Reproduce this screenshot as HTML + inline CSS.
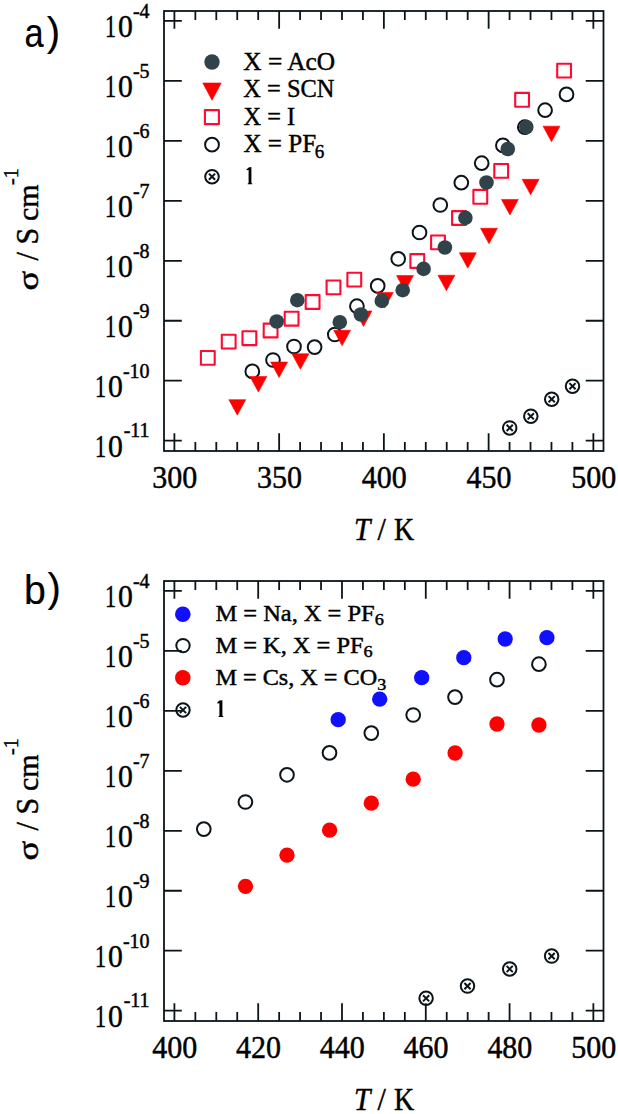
<!DOCTYPE html>
<html><head><meta charset="utf-8"><style>
html,body{margin:0;padding:0;background:#fff;}
svg{display:block;}
text{font-family:"Liberation Serif",serif;fill:#000;stroke:#000;stroke-width:0.45px;}
.tl{font-size:30px;}
.sup{font-size:20px;}
.sup2{font-size:20px;}
.al{font-size:30px;}
.it{font-style:italic;}
.lg{font-size:25.6px;}
.lgb{font-size:23.4px;}
.sub{font-size:17.5px;}
.suba{font-size:19.5px;}
.pl{font-family:"Liberation Sans",sans-serif;font-size:40px;stroke-width:0.2px;}
</style></head><body>
<svg width="618" height="1114" viewBox="0 0 618 1114">
<rect width="618" height="1114" fill="#fff"/>
<rect x="164.0" y="11.0" width="439.5" height="440.0" fill="none" stroke="#0b1519" stroke-width="1.8"/>
<path d="M174.40 451.00V433.20M174.40 11.00V28.80M195.35 451.00V442.00M195.35 11.00V20.00M216.30 451.00V442.00M216.30 11.00V20.00M237.24 451.00V442.00M237.24 11.00V20.00M258.19 451.00V442.00M258.19 11.00V20.00M279.14 451.00V433.20M279.14 11.00V28.80M300.09 451.00V442.00M300.09 11.00V20.00M321.04 451.00V442.00M321.04 11.00V20.00M341.98 451.00V442.00M341.98 11.00V20.00M362.93 451.00V442.00M362.93 11.00V20.00M383.88 451.00V433.20M383.88 11.00V28.80M404.83 451.00V442.00M404.83 11.00V20.00M425.78 451.00V442.00M425.78 11.00V20.00M446.72 451.00V442.00M446.72 11.00V20.00M467.67 451.00V442.00M467.67 11.00V20.00M488.62 451.00V433.20M488.62 11.00V28.80M509.57 451.00V442.00M509.57 11.00V20.00M530.52 451.00V442.00M530.52 11.00V20.00M551.46 451.00V442.00M551.46 11.00V20.00M572.41 451.00V442.00M572.41 11.00V20.00M593.36 451.00V433.20M593.36 11.00V28.80M164.00 20.90H181.80M603.50 20.90H585.70M164.00 80.87H181.80M603.50 80.87H585.70M164.00 140.84H181.80M603.50 140.84H585.70M164.00 200.81H181.80M603.50 200.81H585.70M164.00 260.78H181.80M603.50 260.78H585.70M164.00 320.75H181.80M603.50 320.75H585.70M164.00 380.72H181.80M603.50 380.72H585.70M164.00 440.69H181.80M603.50 440.69H585.70" stroke="#0b1519" stroke-width="1.8" fill="none"/>
<text x="149.6" y="17.70" text-anchor="end" class="sup">-4</text>
<text transform="translate(132.94 37.40) scale(0.99 1.07)" text-anchor="end" class="tl">0</text>
<text transform="translate(116.14 37.40) scale(0.74 1.07)" text-anchor="end" class="tl">1</text>
<text x="149.6" y="77.67" text-anchor="end" class="sup">-5</text>
<text transform="translate(132.94 97.37) scale(0.99 1.07)" text-anchor="end" class="tl">0</text>
<text transform="translate(116.14 97.37) scale(0.74 1.07)" text-anchor="end" class="tl">1</text>
<text x="149.6" y="137.64" text-anchor="end" class="sup">-6</text>
<text transform="translate(132.94 157.34) scale(0.99 1.07)" text-anchor="end" class="tl">0</text>
<text transform="translate(116.14 157.34) scale(0.74 1.07)" text-anchor="end" class="tl">1</text>
<text x="149.6" y="197.61" text-anchor="end" class="sup">-7</text>
<text transform="translate(132.94 217.31) scale(0.99 1.07)" text-anchor="end" class="tl">0</text>
<text transform="translate(116.14 217.31) scale(0.74 1.07)" text-anchor="end" class="tl">1</text>
<text x="149.6" y="257.58" text-anchor="end" class="sup">-8</text>
<text transform="translate(132.94 277.28) scale(0.99 1.07)" text-anchor="end" class="tl">0</text>
<text transform="translate(116.14 277.28) scale(0.74 1.07)" text-anchor="end" class="tl">1</text>
<text x="149.6" y="317.55" text-anchor="end" class="sup">-9</text>
<text transform="translate(132.94 337.25) scale(0.99 1.07)" text-anchor="end" class="tl">0</text>
<text transform="translate(116.14 337.25) scale(0.74 1.07)" text-anchor="end" class="tl">1</text>
<text x="149.6" y="377.52" text-anchor="end" class="sup">-10</text>
<text transform="translate(122.94 397.22) scale(0.99 1.07)" text-anchor="end" class="tl">0</text>
<text transform="translate(106.14 397.22) scale(0.74 1.07)" text-anchor="end" class="tl">1</text>
<text x="149.6" y="437.49" text-anchor="end" class="sup">-11</text>
<text transform="translate(122.94 457.19) scale(0.99 1.07)" text-anchor="end" class="tl">0</text>
<text transform="translate(106.14 457.19) scale(0.74 1.07)" text-anchor="end" class="tl">1</text>
<text transform="translate(37.8 290.6) rotate(-90) scale(1.22 1.0)" class="al">σ</text>
<text transform="translate(37.8 260.5) rotate(-90) scale(1 1.08)" class="al">/</text>
<text transform="translate(37.8 244.5) rotate(-90) scale(1 1.08)" class="al">S</text>
<text transform="translate(37.8 221.0) rotate(-90) scale(1 1.0)" class="al">cm</text>
<text transform="translate(17.8 185.0) rotate(-90) scale(1 1.0)" class="sup">-1</text>
<text transform="translate(174.70 488.2) scale(1 1.05)" text-anchor="middle" class="tl">300</text>
<text transform="translate(279.44 488.2) scale(1 1.05)" text-anchor="middle" class="tl">350</text>
<text transform="translate(384.18 488.2) scale(1 1.05)" text-anchor="middle" class="tl">400</text>
<text transform="translate(488.92 488.2) scale(1 1.05)" text-anchor="middle" class="tl">450</text>
<text transform="translate(593.66 488.2) scale(1 1.05)" text-anchor="middle" class="tl">500</text>
<text transform="translate(354.0 540.0) scale(0.98 1.02)" class="al it">T</text>
<text transform="translate(377.4 540.0) scale(1.0 1.02)" class="al">/</text>
<text transform="translate(394.0 540.0) scale(0.93 1.02)" class="al">K</text>
<text transform="translate(24.5 47) scale(0.86 1.02)" class="pl">a</text><text x="46.8" y="46" class="pl">)</text>
<rect x="200.90" y="351.00" width="13.8" height="13.8" fill="none" stroke="#ff0a30" stroke-width="2.1" stroke-linejoin="round"/>
<rect x="221.80" y="334.70" width="13.8" height="13.8" fill="none" stroke="#ff0a30" stroke-width="2.1" stroke-linejoin="round"/>
<rect x="242.50" y="331.30" width="13.8" height="13.8" fill="none" stroke="#ff0a30" stroke-width="2.1" stroke-linejoin="round"/>
<rect x="263.70" y="323.60" width="13.8" height="13.8" fill="none" stroke="#ff0a30" stroke-width="2.1" stroke-linejoin="round"/>
<rect x="284.70" y="311.80" width="13.8" height="13.8" fill="none" stroke="#ff0a30" stroke-width="2.1" stroke-linejoin="round"/>
<rect x="305.70" y="295.10" width="13.8" height="13.8" fill="none" stroke="#ff0a30" stroke-width="2.1" stroke-linejoin="round"/>
<rect x="326.60" y="280.50" width="13.8" height="13.8" fill="none" stroke="#ff0a30" stroke-width="2.1" stroke-linejoin="round"/>
<rect x="347.40" y="272.70" width="13.8" height="13.8" fill="none" stroke="#ff0a30" stroke-width="2.1" stroke-linejoin="round"/>
<rect x="410.40" y="254.10" width="13.8" height="13.8" fill="none" stroke="#ff0a30" stroke-width="2.1" stroke-linejoin="round"/>
<rect x="431.10" y="235.50" width="13.8" height="13.8" fill="none" stroke="#ff0a30" stroke-width="2.1" stroke-linejoin="round"/>
<rect x="452.10" y="211.10" width="13.8" height="13.8" fill="none" stroke="#ff0a30" stroke-width="2.1" stroke-linejoin="round"/>
<rect x="473.40" y="189.90" width="13.8" height="13.8" fill="none" stroke="#ff0a30" stroke-width="2.1" stroke-linejoin="round"/>
<rect x="494.30" y="164.00" width="13.8" height="13.8" fill="none" stroke="#ff0a30" stroke-width="2.1" stroke-linejoin="round"/>
<rect x="515.20" y="92.90" width="13.8" height="13.8" fill="none" stroke="#ff0a30" stroke-width="2.1" stroke-linejoin="round"/>
<rect x="557.20" y="63.70" width="13.8" height="13.8" fill="none" stroke="#ff0a30" stroke-width="2.1" stroke-linejoin="round"/>
<circle cx="252.3" cy="371.4" r="6.85" fill="none" stroke="#0b1519" stroke-width="2"/>
<circle cx="273.0" cy="360.0" r="6.85" fill="none" stroke="#0b1519" stroke-width="2"/>
<circle cx="294.0" cy="346.5" r="6.85" fill="none" stroke="#0b1519" stroke-width="2"/>
<circle cx="314.6" cy="347.1" r="6.85" fill="none" stroke="#0b1519" stroke-width="2"/>
<circle cx="334.8" cy="334.5" r="6.85" fill="none" stroke="#0b1519" stroke-width="2"/>
<circle cx="356.9" cy="306.2" r="6.85" fill="none" stroke="#0b1519" stroke-width="2"/>
<circle cx="377.7" cy="285.9" r="6.85" fill="none" stroke="#0b1519" stroke-width="2"/>
<circle cx="398.2" cy="258.8" r="6.85" fill="none" stroke="#0b1519" stroke-width="2"/>
<circle cx="419.5" cy="232.5" r="6.85" fill="none" stroke="#0b1519" stroke-width="2"/>
<circle cx="440.3" cy="205.0" r="6.85" fill="none" stroke="#0b1519" stroke-width="2"/>
<circle cx="461.3" cy="182.7" r="6.85" fill="none" stroke="#0b1519" stroke-width="2"/>
<circle cx="481.7" cy="163.2" r="6.85" fill="none" stroke="#0b1519" stroke-width="2"/>
<circle cx="502.9" cy="145.4" r="6.85" fill="none" stroke="#0b1519" stroke-width="2"/>
<circle cx="524.8" cy="127.2" r="6.85" fill="none" stroke="#0b1519" stroke-width="2"/>
<circle cx="545.1" cy="110.2" r="6.85" fill="none" stroke="#0b1519" stroke-width="2"/>
<circle cx="566.5" cy="94.4" r="6.85" fill="none" stroke="#0b1519" stroke-width="2"/>
<path d="M228.85 399.65H245.75L237.30 415.15Z" fill="#ff0000" stroke="#ff0000" stroke-width="0.6" stroke-linejoin="round"/>
<path d="M249.95 376.55H266.85L258.40 392.05Z" fill="#ff0000" stroke="#ff0000" stroke-width="0.6" stroke-linejoin="round"/>
<path d="M270.65 362.05H287.55L279.10 377.55Z" fill="#ff0000" stroke="#ff0000" stroke-width="0.6" stroke-linejoin="round"/>
<path d="M291.95 353.75H308.85L300.40 369.25Z" fill="#ff0000" stroke="#ff0000" stroke-width="0.6" stroke-linejoin="round"/>
<path d="M333.65 330.25H350.55L342.10 345.75Z" fill="#ff0000" stroke="#ff0000" stroke-width="0.6" stroke-linejoin="round"/>
<path d="M355.05 310.95H371.95L363.50 326.45Z" fill="#ff0000" stroke="#ff0000" stroke-width="0.6" stroke-linejoin="round"/>
<path d="M376.35 292.45H393.25L384.80 307.95Z" fill="#ff0000" stroke="#ff0000" stroke-width="0.6" stroke-linejoin="round"/>
<path d="M396.55 275.55H413.45L405.00 291.05Z" fill="#ff0000" stroke="#ff0000" stroke-width="0.6" stroke-linejoin="round"/>
<path d="M437.95 275.25H454.85L446.40 290.75Z" fill="#ff0000" stroke="#ff0000" stroke-width="0.6" stroke-linejoin="round"/>
<path d="M459.35 252.75H476.25L467.80 268.25Z" fill="#ff0000" stroke="#ff0000" stroke-width="0.6" stroke-linejoin="round"/>
<path d="M480.55 228.25H497.45L489.00 243.75Z" fill="#ff0000" stroke="#ff0000" stroke-width="0.6" stroke-linejoin="round"/>
<path d="M501.45 199.45H518.35L509.90 214.95Z" fill="#ff0000" stroke="#ff0000" stroke-width="0.6" stroke-linejoin="round"/>
<path d="M522.15 179.35H539.05L530.60 194.85Z" fill="#ff0000" stroke="#ff0000" stroke-width="0.6" stroke-linejoin="round"/>
<path d="M543.05 126.15H559.95L551.50 141.65Z" fill="#ff0000" stroke="#ff0000" stroke-width="0.6" stroke-linejoin="round"/>
<circle cx="276.7" cy="321.5" r="7.3" fill="#30434b"/>
<circle cx="297.3" cy="300.2" r="7.3" fill="#30434b"/>
<circle cx="339.8" cy="322.2" r="7.3" fill="#30434b"/>
<circle cx="360.8" cy="314.5" r="7.3" fill="#30434b"/>
<circle cx="381.8" cy="300.9" r="7.3" fill="#30434b"/>
<circle cx="402.7" cy="290.2" r="7.3" fill="#30434b"/>
<circle cx="423.6" cy="268.9" r="7.3" fill="#30434b"/>
<circle cx="444.9" cy="247.5" r="7.3" fill="#30434b"/>
<circle cx="465.4" cy="217.8" r="7.3" fill="#30434b"/>
<circle cx="486.5" cy="182.5" r="7.3" fill="#30434b"/>
<circle cx="507.8" cy="149.0" r="7.3" fill="#30434b"/>
<circle cx="526.3" cy="127.0" r="7.3" fill="#30434b"/>
<circle cx="509.7" cy="427.9" r="6.75" fill="none" stroke="#0b1519" stroke-width="2"/><path d="M506.60 424.80L512.80 431.00M512.80 424.80L506.60 431.00" stroke="#0b1519" stroke-width="2"/>
<circle cx="530.8" cy="416.3" r="6.75" fill="none" stroke="#0b1519" stroke-width="2"/><path d="M527.70 413.20L533.90 419.40M533.90 413.20L527.70 419.40" stroke="#0b1519" stroke-width="2"/>
<circle cx="551.7" cy="399.2" r="6.75" fill="none" stroke="#0b1519" stroke-width="2"/><path d="M548.60 396.10L554.80 402.30M554.80 396.10L548.60 402.30" stroke="#0b1519" stroke-width="2"/>
<circle cx="572.5" cy="386.2" r="6.75" fill="none" stroke="#0b1519" stroke-width="2"/><path d="M569.40 383.10L575.60 389.30M575.60 383.10L569.40 389.30" stroke="#0b1519" stroke-width="2"/>
<circle cx="212.0" cy="62.0" r="7.7" fill="#30434b"/>
<path d="M202.80 83.00H221.20L212.00 100.20Z" fill="#ff0000" stroke="#ff0000" stroke-width="0.6" stroke-linejoin="round"/>
<rect x="204.90" y="110.10" width="14.0" height="14.0" fill="none" stroke="#ff0a30" stroke-width="2.1" stroke-linejoin="round"/>
<circle cx="212.0" cy="144.7" r="6.9" fill="none" stroke="#0b1519" stroke-width="2"/>
<circle cx="212.0" cy="176.7" r="6.8" fill="none" stroke="#0b1519" stroke-width="2"/><path d="M208.90 173.60L215.10 179.80M215.10 173.60L208.90 179.80" stroke="#0b1519" stroke-width="2"/>
<text transform="translate(243.3 69.6) scale(0.99 1)" class="lg">X = AcO</text>
<text transform="translate(243.3 96.8) scale(0.955 1)" class="lg">X = SCN</text>
<text transform="translate(243.5 124.6) scale(0.95 1)" class="lg">X = I</text>
<text transform="translate(243.5 152.4) scale(0.98 1)" class="lg">X = PF<tspan class="suba" dx="-1.5" dy="5.6">6</tspan></text>
<path d="M248.60 167.40L251.40 167.00V183.10L252.40 183.80V184.20H247.60V183.80L248.60 183.10V170.00L246.50 170.30V169.40Z" fill="#000"/>
<rect x="164.0" y="581.0" width="439.5" height="440.0" fill="none" stroke="#0b1519" stroke-width="1.8"/>
<path d="M174.40 1021.00V1003.20M174.40 581.00V598.80M195.35 1021.00V1012.00M195.35 581.00V590.00M216.30 1021.00V1012.00M216.30 581.00V590.00M237.24 1021.00V1012.00M237.24 581.00V590.00M258.19 1021.00V1003.20M258.19 581.00V598.80M279.14 1021.00V1012.00M279.14 581.00V590.00M300.09 1021.00V1012.00M300.09 581.00V590.00M321.04 1021.00V1012.00M321.04 581.00V590.00M341.98 1021.00V1003.20M341.98 581.00V598.80M362.93 1021.00V1012.00M362.93 581.00V590.00M383.88 1021.00V1012.00M383.88 581.00V590.00M404.83 1021.00V1012.00M404.83 581.00V590.00M425.78 1021.00V1003.20M425.78 581.00V598.80M446.72 1021.00V1012.00M446.72 581.00V590.00M467.67 1021.00V1012.00M467.67 581.00V590.00M488.62 1021.00V1012.00M488.62 581.00V590.00M509.57 1021.00V1003.20M509.57 581.00V598.80M530.52 1021.00V1012.00M530.52 581.00V590.00M551.46 1021.00V1012.00M551.46 581.00V590.00M572.41 1021.00V1012.00M572.41 581.00V590.00M593.36 1021.00V1003.20M593.36 581.00V598.80M164.00 590.90H181.80M603.50 590.90H585.70M164.00 650.87H181.80M603.50 650.87H585.70M164.00 710.84H181.80M603.50 710.84H585.70M164.00 770.81H181.80M603.50 770.81H585.70M164.00 830.78H181.80M603.50 830.78H585.70M164.00 890.75H181.80M603.50 890.75H585.70M164.00 950.72H181.80M603.50 950.72H585.70M164.00 1010.69H181.80M603.50 1010.69H585.70" stroke="#0b1519" stroke-width="1.8" fill="none"/>
<text x="149.6" y="587.70" text-anchor="end" class="sup">-4</text>
<text transform="translate(132.94 607.40) scale(0.99 1.07)" text-anchor="end" class="tl">0</text>
<text transform="translate(116.14 607.40) scale(0.74 1.07)" text-anchor="end" class="tl">1</text>
<text x="149.6" y="647.67" text-anchor="end" class="sup">-5</text>
<text transform="translate(132.94 667.37) scale(0.99 1.07)" text-anchor="end" class="tl">0</text>
<text transform="translate(116.14 667.37) scale(0.74 1.07)" text-anchor="end" class="tl">1</text>
<text x="149.6" y="707.64" text-anchor="end" class="sup">-6</text>
<text transform="translate(132.94 727.34) scale(0.99 1.07)" text-anchor="end" class="tl">0</text>
<text transform="translate(116.14 727.34) scale(0.74 1.07)" text-anchor="end" class="tl">1</text>
<text x="149.6" y="767.61" text-anchor="end" class="sup">-7</text>
<text transform="translate(132.94 787.31) scale(0.99 1.07)" text-anchor="end" class="tl">0</text>
<text transform="translate(116.14 787.31) scale(0.74 1.07)" text-anchor="end" class="tl">1</text>
<text x="149.6" y="827.58" text-anchor="end" class="sup">-8</text>
<text transform="translate(132.94 847.28) scale(0.99 1.07)" text-anchor="end" class="tl">0</text>
<text transform="translate(116.14 847.28) scale(0.74 1.07)" text-anchor="end" class="tl">1</text>
<text x="149.6" y="887.55" text-anchor="end" class="sup">-9</text>
<text transform="translate(132.94 907.25) scale(0.99 1.07)" text-anchor="end" class="tl">0</text>
<text transform="translate(116.14 907.25) scale(0.74 1.07)" text-anchor="end" class="tl">1</text>
<text x="149.6" y="947.52" text-anchor="end" class="sup">-10</text>
<text transform="translate(122.94 967.22) scale(0.99 1.07)" text-anchor="end" class="tl">0</text>
<text transform="translate(106.14 967.22) scale(0.74 1.07)" text-anchor="end" class="tl">1</text>
<text x="149.6" y="1007.49" text-anchor="end" class="sup">-11</text>
<text transform="translate(122.94 1027.19) scale(0.99 1.07)" text-anchor="end" class="tl">0</text>
<text transform="translate(106.14 1027.19) scale(0.74 1.07)" text-anchor="end" class="tl">1</text>
<text transform="translate(37.8 860.6) rotate(-90) scale(1.22 1.0)" class="al">σ</text>
<text transform="translate(37.8 830.5) rotate(-90) scale(1 1.08)" class="al">/</text>
<text transform="translate(37.8 814.5) rotate(-90) scale(1 1.08)" class="al">S</text>
<text transform="translate(37.8 791.0) rotate(-90) scale(1 1.0)" class="al">cm</text>
<text transform="translate(17.8 755.0) rotate(-90) scale(1 1.0)" class="sup">-1</text>
<text transform="translate(174.70 1058.2) scale(1 1.05)" text-anchor="middle" class="tl">400</text>
<text transform="translate(258.49 1058.2) scale(1 1.05)" text-anchor="middle" class="tl">420</text>
<text transform="translate(342.28 1058.2) scale(1 1.05)" text-anchor="middle" class="tl">440</text>
<text transform="translate(426.08 1058.2) scale(1 1.05)" text-anchor="middle" class="tl">460</text>
<text transform="translate(509.87 1058.2) scale(1 1.05)" text-anchor="middle" class="tl">480</text>
<text transform="translate(593.66 1058.2) scale(1 1.05)" text-anchor="middle" class="tl">500</text>
<text transform="translate(354.0 1110.0) scale(0.98 1.02)" class="al it">T</text>
<text transform="translate(377.4 1110.0) scale(1.0 1.02)" class="al">/</text>
<text transform="translate(394.0 1110.0) scale(0.93 1.02)" class="al">K</text>
<text transform="translate(24 603.5) scale(0.98 1.02)" class="pl">b</text><text x="47.6" y="602.2" class="pl">)</text>
<circle cx="203.8" cy="829.1" r="6.85" fill="none" stroke="#0b1519" stroke-width="2"/>
<circle cx="245.4" cy="802.0" r="6.85" fill="none" stroke="#0b1519" stroke-width="2"/>
<circle cx="287.0" cy="774.8" r="6.85" fill="none" stroke="#0b1519" stroke-width="2"/>
<circle cx="329.5" cy="752.9" r="6.85" fill="none" stroke="#0b1519" stroke-width="2"/>
<circle cx="371.3" cy="733.1" r="6.85" fill="none" stroke="#0b1519" stroke-width="2"/>
<circle cx="413.2" cy="715.0" r="6.85" fill="none" stroke="#0b1519" stroke-width="2"/>
<circle cx="455.0" cy="697.1" r="6.85" fill="none" stroke="#0b1519" stroke-width="2"/>
<circle cx="497.0" cy="679.7" r="6.85" fill="none" stroke="#0b1519" stroke-width="2"/>
<circle cx="538.9" cy="664.2" r="6.85" fill="none" stroke="#0b1519" stroke-width="2"/>
<circle cx="426.1" cy="998.3" r="6.75" fill="none" stroke="#0b1519" stroke-width="2"/><path d="M423.00 995.20L429.20 1001.40M429.20 995.20L423.00 1001.40" stroke="#0b1519" stroke-width="2"/>
<circle cx="467.5" cy="986.1" r="6.75" fill="none" stroke="#0b1519" stroke-width="2"/><path d="M464.40 983.00L470.60 989.20M470.60 983.00L464.40 989.20" stroke="#0b1519" stroke-width="2"/>
<circle cx="509.7" cy="969.0" r="6.75" fill="none" stroke="#0b1519" stroke-width="2"/><path d="M506.60 965.90L512.80 972.10M512.80 965.90L506.60 972.10" stroke="#0b1519" stroke-width="2"/>
<circle cx="551.6" cy="956.1" r="6.75" fill="none" stroke="#0b1519" stroke-width="2"/><path d="M548.50 953.00L554.70 959.20M554.70 953.00L548.50 959.20" stroke="#0b1519" stroke-width="2"/>
<circle cx="245.5" cy="886.3000000000001" r="7.65" fill="#ff0000"/>
<circle cx="287.0" cy="855.2" r="7.65" fill="#ff0000"/>
<circle cx="329.6" cy="830.2" r="7.65" fill="#ff0000"/>
<circle cx="371.3" cy="803.2" r="7.65" fill="#ff0000"/>
<circle cx="413.2" cy="779.2" r="7.65" fill="#ff0000"/>
<circle cx="455.1" cy="753.0" r="7.65" fill="#ff0000"/>
<circle cx="497.0" cy="724.0" r="7.65" fill="#ff0000"/>
<circle cx="538.9" cy="725.0" r="7.65" fill="#ff0000"/>
<circle cx="338.2" cy="719.7" r="7.65" fill="#1010ff"/>
<circle cx="379.7" cy="699.2" r="7.65" fill="#1010ff"/>
<circle cx="421.7" cy="677.7" r="7.65" fill="#1010ff"/>
<circle cx="463.8" cy="657.7" r="7.65" fill="#1010ff"/>
<circle cx="505.2" cy="639.0" r="7.65" fill="#1010ff"/>
<circle cx="546.9" cy="637.7" r="7.65" fill="#1010ff"/>
<circle cx="182.8" cy="614.3" r="7.8" fill="#1010ff"/>
<circle cx="183.0" cy="645.6" r="6.7" fill="none" stroke="#0b1519" stroke-width="2"/>
<circle cx="182.8" cy="677.7" r="7.8" fill="#ff0000"/>
<circle cx="183.0" cy="710.0" r="6.7" fill="none" stroke="#0b1519" stroke-width="2"/><path d="M179.90 706.90L186.10 713.10M186.10 706.90L179.90 713.10" stroke="#0b1519" stroke-width="2"/>
<text transform="translate(215.4 621.2) scale(1.045 1)" class="lgb">M = Na, X = PF<tspan class="sub" dy="4.2">6</tspan></text>
<text transform="translate(215.4 653.0) scale(1.043 1)" class="lgb">M = K, X = PF<tspan class="sub" dy="4.2">6</tspan></text>
<text transform="translate(215.4 684.8) scale(1.035 1)" class="lgb">M = Cs, X = CO<tspan class="sub" dy="4.8">3</tspan></text>
<path d="M219.40 700.60L222.40 700.20V715.80L223.40 716.50V716.90H218.40V716.50L219.40 715.80V703.20L217.30 703.50V702.60Z" fill="#000"/>
</svg>
</body></html>
